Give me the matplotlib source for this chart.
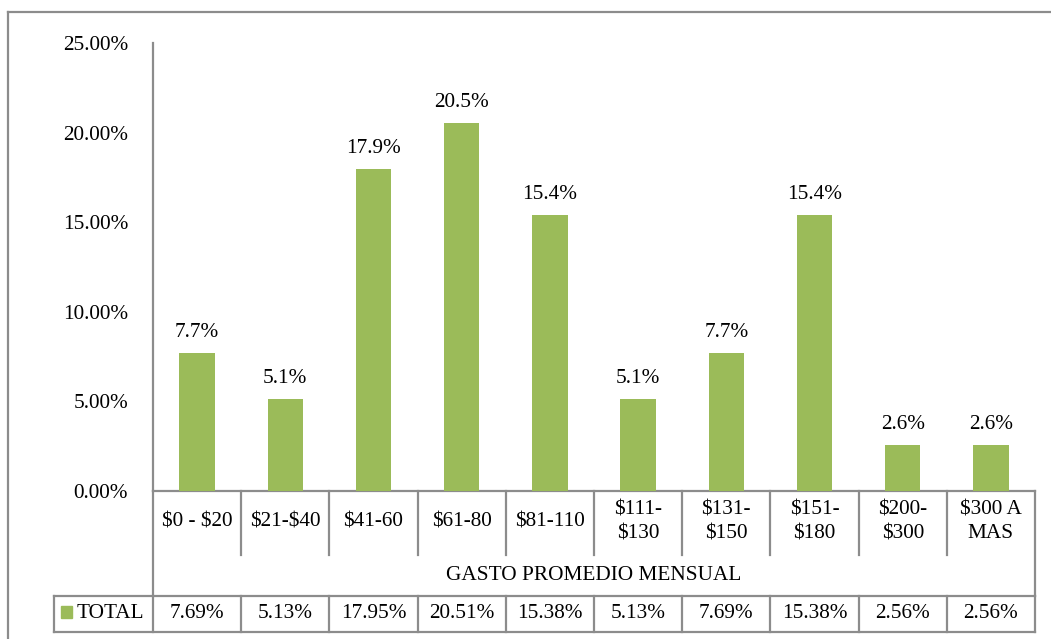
import matplotlib as mpl
mpl.use("Agg")
import matplotlib.pyplot as plt
from matplotlib.lines import Line2D
from matplotlib.patches import Rectangle
from matplotlib.transforms import blended_transform_factory

# ---- data ----
categories = ["$0 - $20", "$21-$40", "$41-60", "$61-80", "$81-110",
              "$111-\n$130", "$131-\n$150", "$151-\n$180", "$200-\n$300", "$300 A\nMAS"]
values = [7.69, 5.13, 17.95, 20.51, 15.38, 5.13, 7.69, 15.38, 2.56, 2.56]
yticks = [0, 5, 10, 15, 20, 25]
axis_title = "GASTO PROMEDIO MENSUAL"
series_name = "TOTAL"

GREEN, LINE, INK = "#9bbb59", "#8c8c8c", "#000000"
W, H = 1051, 639
FS = 15.3

mpl.rcParams.update({
    "font.family": ["Liberation Serif", "DejaVu Serif"],
    "font.size": FS,
    "text.color": INK,
    "text.parse_math": False,
})

fig = plt.figure(figsize=(W / 100, H / 100), dpi=100)
fig.patch.set_facecolor("white")
ax = fig.add_axes([153 / W, 1 - 491 / H, (1035 - 153) / W, (491 - 43) / H])

x = list(range(len(categories)))
ax.bar(x, values, width=0.4, color=GREEN, zorder=3)
for xi, v in zip(x, values):
    ax.annotate(f"{v:.1f}%", (xi, v), xytext=(0, 8), textcoords="offset points",
                ha="center", va="bottom", fontsize=FS)

ax.set_xlim(-0.5, len(categories) - 0.5)
ax.set_ylim(0, 25)
ax.set_yticks(yticks)
ax.set_yticklabels([f"{t:.2f}%" for t in yticks])
ax.set_xticks([])
ax.tick_params(axis="y", length=0, pad=18, labelsize=FS, labelcolor=INK)
for s in ("top", "right"):
    ax.spines[s].set_visible(False)
for s in ("left", "bottom"):
    ax.spines[s].set_color(LINE)
    ax.spines[s].set_linewidth(1.6)

# ---- data table below the axis ----
fy = lambda ypix: 1 - ypix / H
bt = blended_transform_factory(ax.transData, fig.transFigure)

def line(xs, ys, transform):
    fig.add_artist(Line2D(xs, ys, transform=transform, color=LINE, lw=1.6))

n = len(categories)
for i in range(n + 1):
    xb = i - 0.5
    bottom = 596 if i in (0, n) else 555
    line([xb, xb], [fy(491), fy(bottom)], bt)
    line([xb, xb], [fy(596), fy(632)], bt)
line([54 / W, 1035 / W], [fy(596)] * 2, fig.transFigure)
line([54 / W, 1035 / W], [fy(632)] * 2, fig.transFigure)
line([54 / W, 54 / W], [fy(596), fy(632)], fig.transFigure)

for xi, lab, v in zip(x, categories, values):
    fig.text(xi, fy(522), lab, transform=bt, ha="center", va="center",
             fontsize=FS, linespacing=1.35)
    fig.text(xi, fy(614), f"{v:.2f}%", transform=bt, ha="center", va="center", fontsize=FS)
fig.text(594 / W, fy(576), axis_title, ha="center", va="center", fontsize=FS)

fig.add_artist(Rectangle((61 / W, fy(618)), 11 / W, 12 / H, transform=fig.transFigure,
                         color=GREEN))
fig.text(77 / W, fy(614), series_name, ha="left", va="center", fontsize=FS)

# ---- outer chart border ----
line([8 / W, 8 / W], [fy(12), 0], fig.transFigure)
line([8 / W, 1], [fy(12)] * 2, fig.transFigure)

fig.savefig("out.png", dpi=100)
